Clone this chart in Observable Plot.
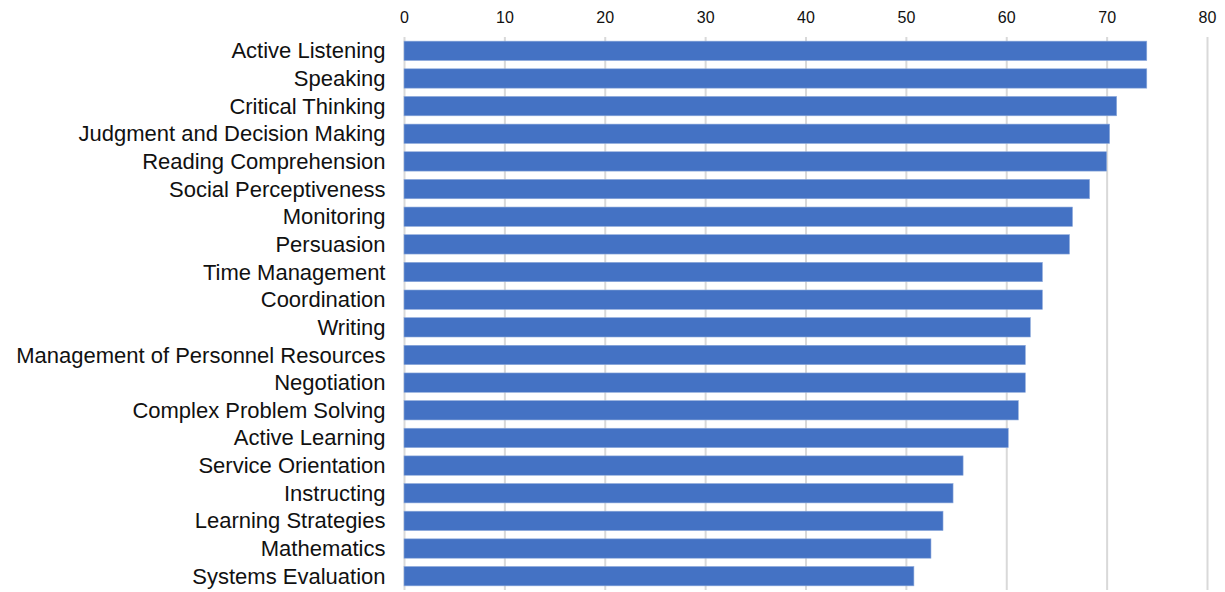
<!DOCTYPE html>
<html>
<head>
<meta charset="utf-8">
<script src="https://cdn.jsdelivr.net/npm/d3@7"></script>
<script src="https://cdn.jsdelivr.net/npm/@observablehq/plot@0.6"></script>
<style>
  html, body { margin: 0; padding: 0; background: #fff; }
  #chart { width: 1225px; height: 592px; }
</style>
</head>
<body>
<div id="chart"></div>
<script>
const skills = [
  "Active Listening", "Speaking", "Critical Thinking", "Judgment and Decision Making",
  "Reading Comprehension", "Social Perceptiveness", "Monitoring", "Persuasion",
  "Time Management", "Coordination", "Writing", "Management of Personnel Resources",
  "Negotiation", "Complex Problem Solving", "Active Learning", "Service Orientation",
  "Instructing", "Learning Strategies", "Mathematics", "Systems Evaluation"
];
const values = [
  74.0, 74.0, 71.0, 70.3, 70.0, 68.3, 66.6, 66.3, 63.6, 63.6,
  62.4, 61.9, 61.9, 61.2, 60.2, 55.7, 54.7, 53.7, 52.5, 50.8
];
const xTicks = [0, 10, 20, 30, 40, 50, 60, 70, 80];

const data = skills.map((s, i) => ({skill: s, value: values[i]}));

const chart = Plot.plot({
  width: 1225,
  height: 592,
  marginTop: 37,
  marginBottom: 2,
  marginLeft: 404,
  marginRight: 18,
  style: {fontFamily: "Liberation Sans, Arial, sans-serif", background: "#fff"},
  x: {domain: [0, 80], ticks: xTicks, label: null},
  y: {domain: skills, paddingInner: 0.3, paddingOuter: 0.15, round: false, label: null},
  marks: [
    Plot.ruleX(xTicks, {stroke: "#d9d9d9", strokeWidth: 2}),
    Plot.barX(data, {y: "skill", x: "value", fill: "#4472C4", stroke: "#8eaadb", strokeWidth: 0.6}),
    Plot.axisX(xTicks, {anchor: "top", tickSize: 0, tickPadding: 15, fontSize: 16, fill: "#111", label: null, tickFormat: d => String(d)}),
    Plot.axisY({anchor: "left", tickSize: 0, tickPadding: 19, fontSize: 22, fill: "#111", label: null})
  ]
});
document.getElementById("chart").appendChild(chart);
</script>
</body>
</html>
